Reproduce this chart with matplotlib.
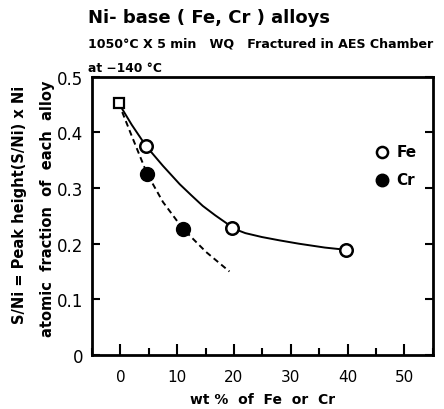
import matplotlib
matplotlib.use("Agg")
import matplotlib.pyplot as plt
from matplotlib.ticker import MultipleLocator

# Data
base_x = [-0.3]
base_y = [0.453]
fe_x = [4.5, 19.7, 39.7]
fe_y = [0.376, 0.228, 0.189]
cr_x = [4.7, 11.0]
cr_y = [0.326, 0.227]
# fitted curves
fe_curve_x = [-0.3, 2.0, 4.5, 7.5, 10.45, 12.5, 14.5, 16.7, 18.8, 19.7, 22.0, 24.9, 28.0, 31.4, 36.0, 39.7]
fe_curve_y = [0.453, 0.414, 0.376, 0.340, 0.307, 0.287, 0.268, 0.251, 0.236, 0.228, 0.219, 0.212, 0.206, 0.200, 0.193, 0.189]
cr_curve_x = [-0.3, 2.0, 4.7, 7.5, 11.0, 15.1, 19.2]
cr_curve_y = [0.453, 0.394, 0.326, 0.275, 0.227, 0.185, 0.150]
x_ticks = [0, 10, 20, 30, 40, 50]
y_ticks = [0, 0.1, 0.2, 0.3, 0.4, 0.5]
y_tick_labels = ["0", "0.1", "0.2", "0.3", "0.4", "0.5"]

plt.rcParams['font.family'] = ['DejaVu Sans']
fig = plt.figure(figsize=(4.44, 4.10), dpi=100)
ax = fig.add_axes([0.207, 0.132, 0.768, 0.678])

ax.plot(fe_curve_x, fe_curve_y, color='black', lw=1.4, zorder=2)
ax.plot(cr_curve_x, cr_curve_y, color='black', lw=1.4, ls=(0, (3, 2)), zorder=2)
ax.plot(base_x, base_y, ls='none', marker='s', ms=7.5, mfc='white', mec='black', mew=1.6, zorder=3)
ax.plot(fe_x, fe_y, ls='none', marker='o', ms=9, mfc='white', mec='black', mew=1.8, zorder=3)
ax.plot(cr_x, cr_y, ls='none', marker='o', ms=10, mfc='black', mec='black', zorder=3)

ax.set_xlim(-5, 55)
ax.set_ylim(0, 0.5)
ax.set_xticks(x_ticks)
ax.xaxis.set_minor_locator(MultipleLocator(5))
ax.set_yticks(y_ticks)
ax.set_yticklabels(y_tick_labels)
ax.tick_params(axis='both', which='both', direction='in', width=1.5)
ax.tick_params(axis='x', which='major', length=8, labelsize=11, pad=10)
ax.tick_params(axis='x', which='minor', length=5)
ax.tick_params(axis='y', which='major', length=6, labelsize=12, pad=6, right=True)
for s in ax.spines.values():
    s.set_linewidth(2.0)

# legend drawn as markers + text in axes coords
ax.plot([0.85], [0.73], transform=ax.transAxes, marker='o', ms=8, mfc='white', mec='black', mew=1.8, ls='none', clip_on=False)
ax.text(0.893, 0.73, "Fe", transform=ax.transAxes, fontsize=11, fontweight='bold', va='center')
ax.plot([0.85], [0.63], transform=ax.transAxes, marker='o', ms=9, mfc='black', mec='black', ls='none', clip_on=False)
ax.text(0.893, 0.63, "Cr", transform=ax.transAxes, fontsize=11, fontweight='bold', va='center')

ax.set_xlabel("wt %  of  Fe  or  Cr", fontsize=10, fontweight='bold', labelpad=6)

fig.text(0.045, 0.50, "S/Ni = Peak height(S/Ni) x Ni", rotation=90, fontsize=10.5, fontweight='bold', ha='center', va='center')
fig.text(0.106, 0.49, "atomic  fraction  of  each  alloy", rotation=90, fontsize=10.5, fontweight='bold', ha='center', va='center')

fig.text(0.198, 0.955, "Ni- base ( Fe, Cr ) alloys", fontsize=13, fontweight='bold', ha='left', va='center')
fig.text(0.198, 0.892, "1050°C X 5 min   WQ   Fractured in AES Chamber", fontsize=9.1, fontweight='bold', ha='left', va='center')
fig.text(0.198, 0.834, "at \u2212140 °C", fontsize=8.8, fontweight='bold', ha='left', va='center')

fig.savefig("out.png", dpi=100)
